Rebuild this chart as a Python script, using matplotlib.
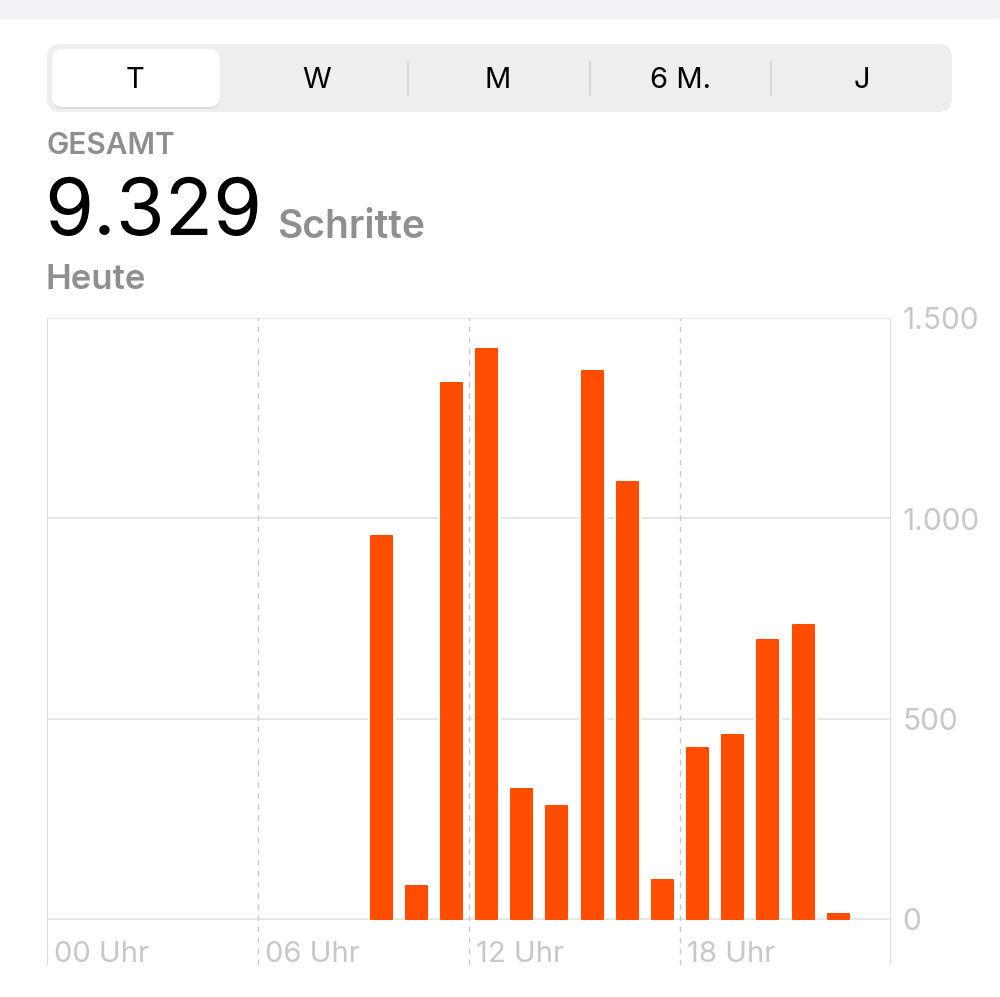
import numpy as np
import matplotlib.pyplot as plt
from matplotlib.patches import FancyBboxPatch, Rectangle

# steps per hour (bar drawn in the hour slot it belongs to)
hours = np.array([9, 10, 11, 12, 13, 14, 15, 16, 17, 18, 19, 20, 21, 22])
steps = np.array([955, 82, 1338, 1423, 324, 282, 1368, 1091, 97, 427, 459, 696, 734, 12])
total_label = "9.329"
ranges = ["T", "W", "M", "6 M.", "J"]
y_ticks = [0, 500, 1000, 1500]
y_labels = ["0", "500", "1.000", "1.500"]
x_ticks = [0, 6, 12, 18]
x_labels = ["00 Uhr", "06 Uhr", "12 Uhr", "18 Uhr"]

plt.rcParams['font.family'] = ['Inter', 'DejaVu Sans']

W, H = 1000, 997
fig = plt.figure(figsize=(W / 100, H / 100), dpi=100)


def fx(x):
    return x / W


def fy(y):
    return 1 - y / H


# grey band at the very top
fig.patches.append(Rectangle((0, fy(19)), 1, 19 / H, transform=fig.transFigure,
                             facecolor='#f2f2f7', edgecolor='none'))

# segmented control
fig.patches.append(FancyBboxPatch((fx(47), fy(112)), fx(952) - fx(47), (112 - 44) / H,
                                  boxstyle="round,pad=0,rounding_size=0.014",
                                  transform=fig.transFigure, facecolor='#eeeeef', edgecolor='none'))
fig.patches.append(FancyBboxPatch((fx(53), fy(109)), fx(220) - fx(53), (109 - 50) / H,
                                  boxstyle="round,pad=0,rounding_size=0.011",
                                  transform=fig.transFigure, facecolor='#dcdcdc', edgecolor='none'))
fig.patches.append(FancyBboxPatch((fx(52), fy(107)), fx(220) - fx(52), (107 - 49) / H,
                                  boxstyle="round,pad=0,rounding_size=0.011",
                                  transform=fig.transFigure, facecolor='white', edgecolor='none'))
for sx in [408, 590, 771]:
    fig.add_artist(plt.Line2D([fx(sx), fx(sx)], [fy(62), fy(95)], transform=fig.transFigure,
                              color='#d4d4d6', lw=1.2))
for lab, cx in zip(ranges, [135, 317, 498, 680, 862]):
    fig.text(fx(cx), fy(81), lab, ha='center', va='center', fontsize=21, color='black')

# header texts
fig.text(fx(46), fy(146), "GESAMT", ha='left', va='center', fontsize=21.5,
         fontweight='semibold', color='#8e8e93')
fig.text(fx(44), fy(214), total_label, ha='left', va='center', fontsize=57, color='black')
fig.text(fx(277), fy(227), "Schritte", ha='left', va='center', fontsize=28,
         fontweight='semibold', color='#8e8e93')
fig.text(fx(46), fy(280), "Heute", ha='left', va='center', fontsize=25,
         fontweight='semibold', color='#8e8e93')

# chart
ax = fig.add_axes([fx(47), fy(965), fx(891) - fx(47), (965 - 318) / H])
ax.set_xlim(0, 24)
ax.set_ylim(-115, 1500)
ax.axis('off')

ax.hlines(y_ticks, 0, 24, color='#e3e3e6', lw=1.2, zorder=1)
ax.vlines([0, 24], -115, 1500, color='#d8d8db', lw=1.2, zorder=1)
ax.vlines(x_ticks[1:], -115, 1500, color='#c9c9cd', lw=1.0, linestyles=(0, (4, 4)), zorder=1)

x = hours + 0.5
lift = np.minimum(steps, 20)
ax.bar(x, steps - lift, bottom=lift, width=0.6, color='white', edgecolor='white', lw=5, zorder=2)
ax.bar(x, steps, width=0.6, color='#ff4d00', edgecolor='#ff4d00', lw=1.5,
       joinstyle='round', zorder=3)

for t, lab in zip(x_ticks, x_labels):
    ax.text(t + 0.2, -88, lab, ha='left', va='center', fontsize=21, color='#c7c7cc')
for v, lab in zip(y_ticks, y_labels):
    ax.text(24.33, v - 8, lab, ha='left', va='center', fontsize=21.5, color='#c7c7cc')

fig.savefig("out.png", dpi=100)
